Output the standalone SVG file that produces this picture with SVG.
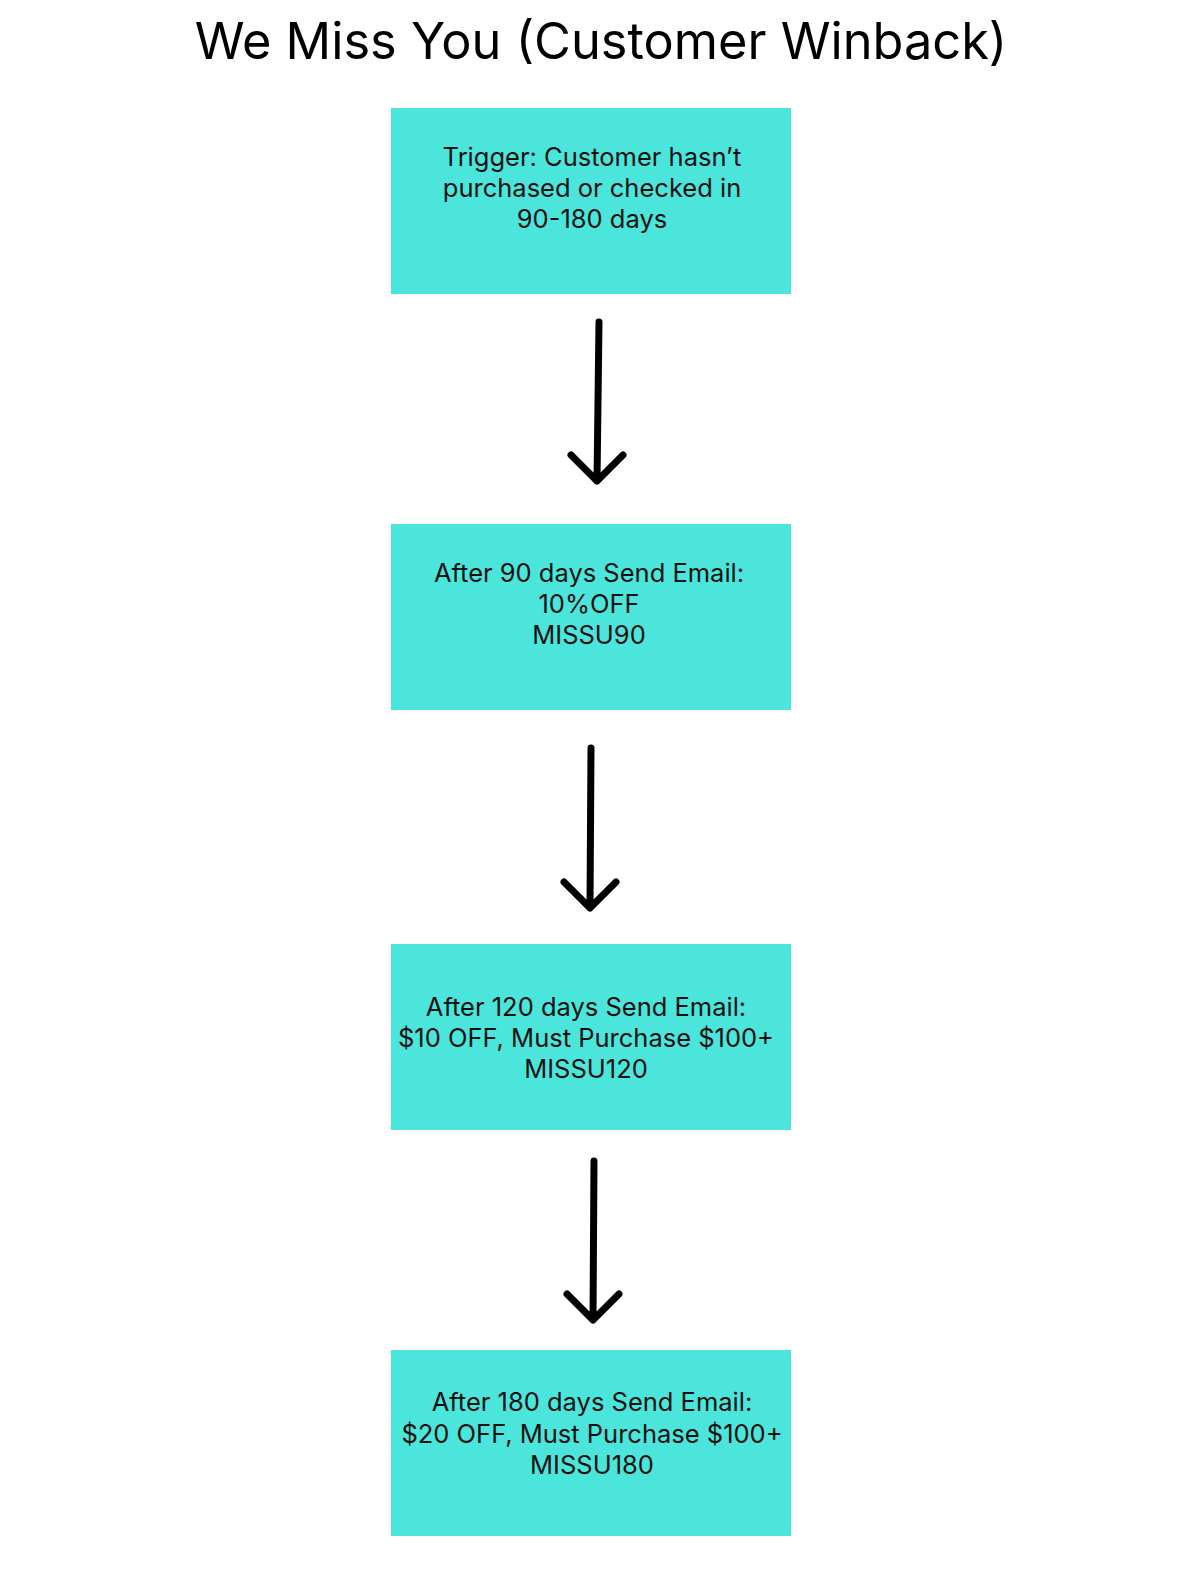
<svg xmlns="http://www.w3.org/2000/svg" width="1190" height="1579" viewBox="0 0 1190 1579">
<defs>
<style>
.box{fill:#4ce5db;}
.t{font-family:Inter,"Noto Sans",sans-serif;font-size:25.5px;fill:#111;text-anchor:middle;}
.title{font-family:Inter,"Noto Sans",sans-serif;font-size:50.5px;fill:#000;text-anchor:middle;}
.arr{fill:none;stroke:#000;stroke-width:7;stroke-linecap:round;stroke-linejoin:round;}
</style>
</defs>
<rect width="1190" height="1579" fill="#fff"/>
<text class="title" x="601" y="59">We Miss You (Customer Winback)</text>
<g id="n1">
<rect class="box" x="391" y="108" width="400" height="186"/>
<text class="t" x="592" y="166">Trigger: Customer hasn’t</text>
<text class="t" x="592" y="197">purchased or checked in</text>
<text class="t" x="592" y="228">90-180 days</text>
</g>
<g id="n2">
<rect class="box" x="391" y="524" width="400" height="186"/>
<text class="t" x="589" y="582">After 90 days Send Email:</text>
<text class="t" x="589" y="613">10%OFF</text>
<text class="t" x="589" y="644">MISSU90</text>
</g>
<g id="n3">
<rect class="box" x="391" y="944" width="400" height="186"/>
<text class="t" x="586" y="1016">After 120 days Send Email:</text>
<text class="t" x="586" y="1047">$10 OFF, Must Purchase $100+</text>
<text class="t" x="586" y="1078">MISSU120</text>
</g>
<g id="n4">
<rect class="box" x="391" y="1350" width="400" height="186"/>
<text class="t" x="592" y="1411">After 180 days Send Email:</text>
<text class="t" x="592" y="1443">$20 OFF, Must Purchase $100+</text>
<text class="t" x="592" y="1474">MISSU180</text>
</g>
<g id="connectors">
<path class="arr" d="M599 322 L597 481 M571 455 L597 481 L623 455"/>
<path class="arr" d="M591 748 L590 908 M564 882 L590 908 L616 882"/>
<path class="arr" d="M594 1161 L593 1320 M567 1294 L593 1320 L619 1294"/>
</g>
</svg>
